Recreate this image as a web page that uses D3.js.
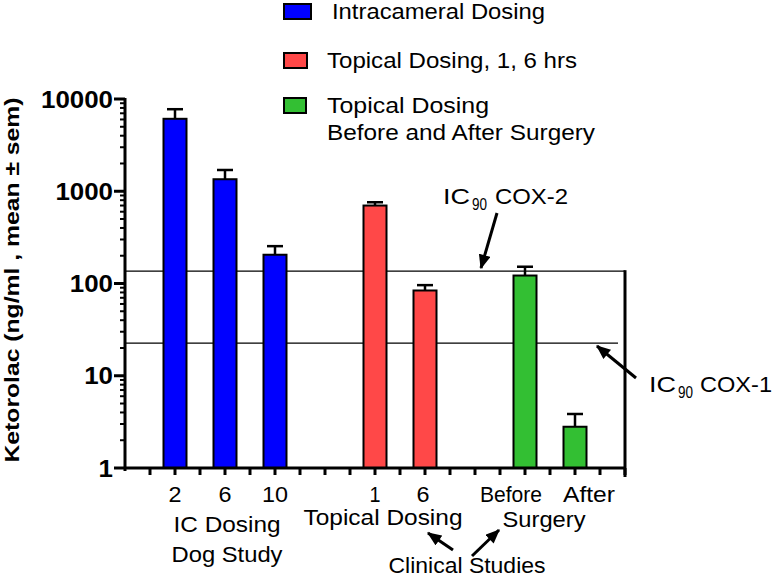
<!DOCTYPE html>
<html><head><meta charset="utf-8">
<script src="https://cdn.jsdelivr.net/npm/d3@7"></script>
<style>html,body{margin:0;padding:0;background:#fff;}svg{display:block;}</style>
</head><body>
<svg id="chart" width="773" height="578"></svg>
<script>
// ---- data ----
const categories = ["2", "6", "10", "1", "6", "Before", "After"];
const groupIndex = [0, 0, 0, 1, 1, 2, 2];
const means = [6100, 1350, 205, 700, 84, 122, 2.8];
const sems = [1650, 350, 49, 60, 12, 30, 1.05];
const seriesNames = ["Intracameral Dosing", "Topical Dosing, 1, 6 hrs", "Topical Dosing\nBefore and After Surgery"];
const seriesColors = ["#0000ff", "#ff4848", "#33bf33"];
const yTickValues = [1, 10, 100, 1000, 10000];
const refLines = [136, 22.6]; // IC90 COX-2, IC90 COX-1

const FONT = "'Liberation Sans', Arial, Helvetica, sans-serif";
const svg = d3.select("#chart");

function txt(g, s, x, y, size, opts = {}) {
  const t = g.append("text").attr("x", x).attr("y", y)
    .attr("font-family", FONT).attr("font-size", size)
    .attr("font-weight", opts.weight || "normal")
    .attr("text-anchor", opts.anchor || "start")
    .attr("fill", "#000").text(s);
  if (opts.len) t.attr("textLength", opts.len).attr("lengthAdjust", "spacingAndGlyphs");
  if (opts.transform) t.attr("transform", opts.transform);
  return t;
}

// slots: one slot per category plus one empty slot between groups
const slot = [];
let s = 0;
categories.forEach((c, i) => {
  if (i > 0 && groupIndex[i] !== groupIndex[i - 1]) s += 1;
  s += 1;
  slot.push(s);
});
const nSlots = s + 1;

const x = d3.scaleLinear().domain([0, nSlots]).range([125, 625]);
const y = d3.scaleLog().domain([1, 10000]).range([468, 99]);

// defs: arrow marker
svg.append("defs").append("marker")
  .attr("id", "ah").attr("viewBox", "0 0 12 10").attr("refX", 11).attr("refY", 5)
  .attr("markerWidth", 15).attr("markerHeight", 12).attr("markerUnits", "userSpaceOnUse")
  .attr("orient", "auto")
  .append("path").attr("d", "M0,0 L12,5 L0,10 Z").attr("fill", "#000");

// reference lines
svg.append("line").attr("x1", x(0)).attr("x2", x(nSlots)).attr("y1", y(refLines[0])).attr("y2", y(refLines[0]))
  .attr("stroke", "#000").attr("stroke-width", 1.2);
svg.append("line").attr("x1", x(0)).attr("x2", x(nSlots) - 7).attr("y1", y(refLines[1])).attr("y2", y(refLines[1]))
  .attr("stroke", "#000").attr("stroke-width", 1.2);

// bars
const bw = 23;
const bars = svg.append("g");
categories.forEach((c, i) => {
  const cx = x(slot[i]);
  const top = y(means[i]);
  const capY = y(means[i] + sems[i]);
  bars.append("line").attr("x1", cx).attr("x2", cx).attr("y1", top).attr("y2", capY)
    .attr("stroke", "#000").attr("stroke-width", 2.5);
  bars.append("line").attr("x1", cx - 8).attr("x2", cx + 8).attr("y1", capY).attr("y2", capY)
    .attr("stroke", "#000").attr("stroke-width", 2.5);
  bars.append("rect").attr("x", cx - bw / 2).attr("y", top).attr("width", bw).attr("height", y(1) - top)
    .attr("fill", seriesColors[groupIndex[i]]).attr("stroke", "#000").attr("stroke-width", 2);
});

// y axis
const yAxis = svg.append("g");
yAxis.append("line").attr("x1", 125).attr("x2", 125).attr("y1", y(10000) - 1).attr("y2", y(1) + 3)
  .attr("stroke", "#000").attr("stroke-width", 3);
for (let d = 0; d < 4; d++) {
  for (let m = 2; m <= 9; m++) {
    const v = m * Math.pow(10, d);
    yAxis.append("line").attr("x1", 120).attr("x2", 125).attr("y1", y(v)).attr("y2", y(v))
      .attr("stroke", "#000").attr("stroke-width", 2);
  }
}
yTickValues.forEach(v => {
  yAxis.append("line").attr("x1", 114).attr("x2", 125).attr("y1", y(v)).attr("y2", y(v))
    .attr("stroke", "#000").attr("stroke-width", 3);
  const lab = String(v);
  txt(yAxis, lab, 113, y(v) + 8.5, 24, { weight: "bold", anchor: "end", len: lab.length * 14.4 });
});

// x axis
const xAxis = svg.append("g");
xAxis.append("line").attr("x1", 124).attr("x2", x(nSlots)).attr("y1", y(1)).attr("y2", y(1))
  .attr("stroke", "#000").attr("stroke-width", 3);
d3.range(0.5, nSlots + 0.01, 0.5).forEach(t => {
  xAxis.append("line").attr("x1", x(t)).attr("x2", x(t)).attr("y1", y(1)).attr("y2", y(1) + 7)
    .attr("stroke", "#000").attr("stroke-width", 3);
});
// right frame line
xAxis.append("line").attr("x1", x(nSlots)).attr("x2", x(nSlots)).attr("y1", y(refLines[0]) - 1).attr("y2", y(1) + 9)
  .attr("stroke", "#000").attr("stroke-width", 3);

// category labels
const catOffsets = [0, 0, 0, 0, -2, -14, 14];
const catLens = [13, 13, 26, 11, 13, 62, 52];
categories.forEach((c, i) => {
  txt(xAxis, c, x(slot[i]) + catOffsets[i], 502, 22.5, { anchor: "middle", len: catLens[i] });
});

// group labels
txt(svg, "IC Dosing", 227, 532, 22.5, { anchor: "middle", len: 107 });
txt(svg, "Dog Study", 227, 562, 22.5, { anchor: "middle", len: 111 });
txt(svg, "Topical Dosing", 383, 525, 22.5, { anchor: "middle", len: 159 });
txt(svg, "Surgery", 544, 527, 22.5, { anchor: "middle", len: 83 });
txt(svg, "Clinical Studies", 467, 573, 22, { anchor: "middle", len: 157 });

// arrows
function arrow(x1, y1, x2, y2) {
  svg.append("line").attr("x1", x1).attr("y1", y1).attr("x2", x2).attr("y2", y2)
    .attr("stroke", "#000").attr("stroke-width", 3).attr("marker-end", "url(#ah)");
}
arrow(453, 550, 428, 533);
arrow(472, 556, 499, 530);
arrow(497, 213, 481, 268);
arrow(636, 378, 597, 346);

// IC90 labels
txt(svg, "IC", 443, 204, 22.5, { len: 27 });
txt(svg, "90", 472, 210, 16, { len: 15 });
txt(svg, "COX-2", 495, 204, 22.5, { len: 73 });
txt(svg, "IC", 649, 392, 22.5, { len: 27 });
txt(svg, "90", 678, 398, 16, { len: 15 });
txt(svg, "COX-1", 700, 392, 22.5, { len: 72 });

// y axis title
txt(svg, "Ketorolac (ng/ml , mean \u00B1 sem)", 0, 0, 20.5, {
  weight: "bold", anchor: "middle", len: 365, transform: "translate(19,280) rotate(-90)"
});

// legend
const legendRows = [19, 68, 113];
const legendLens = [[213], [250], [162, 268]];
const boxW = [27, 23, 22];
seriesNames.forEach((name, i) => {
  const by = legendRows[i];
  svg.append("rect").attr("x", 284).attr("y", by - 15).attr("width", boxW[i]).attr("height", 15)
    .attr("fill", seriesColors[i]).attr("stroke", "#000").attr("stroke-width", 2);
  name.split("\n").forEach((line, j) => {
    txt(svg, line, i === 0 ? 332 : 327, by + j * 27, 22, { len: legendLens[i][j] });
  });
});
</script>
</body></html>
